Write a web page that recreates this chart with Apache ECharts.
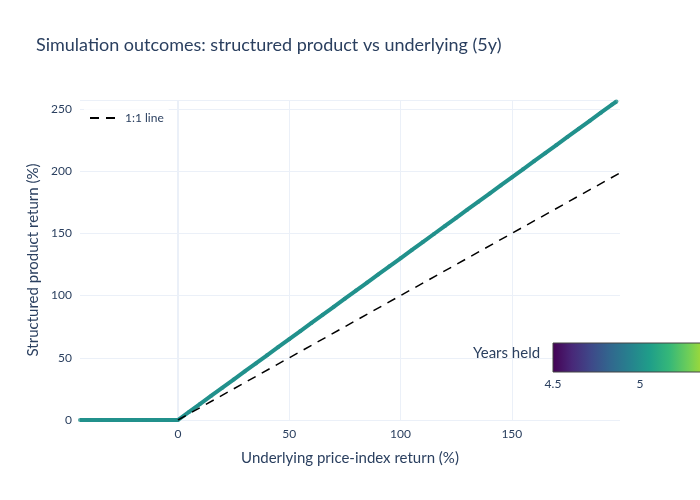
<!DOCTYPE html>
<html>
<head>
<meta charset="utf-8">
<script src="https://cdn.jsdelivr.net/npm/echarts@6/dist/echarts.min.js"></script>
<style>
  html, body { margin: 0; padding: 0; background: #fff; }
  #chart { width: 700px; height: 500px; }
</style>
</head>
<body>
<div id="chart"></div>
<script>
// 模拟结果：标的收益 vs 结构化产品收益（5年）
var underlyingReturn = [-44, -40, -35, -30, -25, -20, -15, -10, -5, 0,
    5, 10, 15, 20, 25, 30, 35, 40, 45, 50, 55, 60, 65, 70, 75, 80, 85, 90, 95, 100,
    105, 110, 115, 120, 125, 130, 135, 140, 145, 150, 155, 160, 165, 170, 175, 180, 185, 190, 195, 197];
var productReturn = [0, 0, 0, 0, 0, 0, 0, 0, 0, 0,
    6.5, 13, 19.5, 26, 32.5, 39, 45.5, 52, 58.5, 65, 71.5, 78, 84.5, 91, 97.5, 104, 110.5, 117, 123.5, 130,
    136.5, 143, 149.5, 156, 162.5, 169, 175.5, 182, 188.5, 195, 201.5, 208, 214.5, 221, 227.5, 234, 240.5, 247, 253.5, 256];
var yearsHeld = [5, 5, 5, 5, 5, 5, 5, 5, 5, 5,
    5, 5, 5, 5, 5, 5, 5, 5, 5, 5, 5, 5, 5, 5, 5, 5, 5, 5, 5, 5,
    5, 5, 5, 5, 5, 5, 5, 5, 5, 5, 5, 5, 5, 5, 5, 5, 5, 5, 5, 5];
var identityX = [0, 198.6];
var identityY = [0, 198.6];
var xTicks = [0, 50, 100, 150];
var colorbarTicks = [4.5, 5, 5.5];

var viridis = ['#440154', '#482878', '#3e4989', '#31688e', '#26828e',
    '#1f9e89', '#35b779', '#6ece58', '#b5de2b', '#fde725'];

var FONT = 'Lato';
var TXT = '#2a3f5f';
var GRID = '#ebf0f8';

var scatterData = [];
for (var i = 0; i < underlyingReturn.length; i++) {
    scatterData.push([underlyingReturn[i], productReturn[i], yearsHeld[i]]);
}
var lineData = [];
for (var j = 0; j < identityX.length; j++) {
    lineData.push([identityX[j], identityY[j]]);
}
// x方向网格线（刻度从0开始，不从min开始）
var xGridLines = xTicks.map(function (v) {
    return { xAxis: v, lineStyle: { width: v === 0 ? 2 : 1 } };
});

var myChart = echarts.init(document.getElementById('chart'));

var option = {
    backgroundColor: '#fff',
    textStyle: { fontFamily: FONT },
    animation: false,
    title: [
        {
            text: 'Simulation outcomes: structured product vs underlying (5y)',
            left: 31, top: 31,
            textStyle: { fontFamily: FONT, fontSize: 18, fontWeight: 'normal', color: TXT }
        },
        {
            text: 'Years held',
            left: 468, top: 341,
            textStyle: { fontFamily: FONT, fontSize: 15, fontWeight: 'normal', color: TXT }
        }
    ],
    legend: {
        data: ['1:1 line'],
        left: 84, top: 107,
        itemWidth: 30, itemHeight: 10,
        itemGap: 6,
        itemStyle: { opacity: 0 },
        backgroundColor: 'rgba(255,255,255,0.8)',
        textStyle: { fontFamily: FONT, fontSize: 12, color: TXT }
    },
    grid: [
        { left: 80, right: 80, top: 100, bottom: 80, outerBoundsMode: 'none' },
        {
            left: 553, width: 174, top: 343, height: 29,
            outerBoundsMode: 'none',
            z: 10,
            show: true, borderColor: '#444', borderWidth: 1,
            backgroundColor: {
                type: 'linear', x: 0, y: 0, x2: 1, y2: 0,
                colorStops: viridis.map(function (c, k) {
                    return { offset: k / (viridis.length - 1), color: c };
                })
            }
        }
    ],
    xAxis: [
        {
            type: 'value', gridIndex: 0,
            min: -44, max: 198.6, interval: 50,
            name: 'Underlying price-index return (%)',
            nameLocation: 'middle', nameGap: 31,
            nameTextStyle: { fontFamily: FONT, fontSize: 15, color: TXT },
            axisLine: { show: false },
            axisTick: { show: false },
            axisLabel: {
                color: TXT, fontSize: 12, fontFamily: FONT, margin: 8,
                customValues: xTicks
            },
            splitLine: { show: false }
        },
        {
            type: 'value', gridIndex: 1,
            min: colorbarTicks[0], max: colorbarTicks[colorbarTicks.length - 1], interval: 0.5,
            z: 10,
            axisLine: { show: false },
            axisTick: { show: false },
            splitLine: { show: false },
            axisLabel: { color: TXT, fontSize: 12, fontFamily: FONT, margin: 6 }
        }
    ],
    yAxis: [
        {
            type: 'value', gridIndex: 0,
            min: 0, max: 257.2, interval: 50,
            name: 'Structured product return (%)',
            nameLocation: 'middle', nameGap: 38,
            nameTextStyle: { fontFamily: FONT, fontSize: 15, color: TXT },
            axisLine: { show: false },
            axisTick: { show: false },
            axisLabel: { color: TXT, fontSize: 12, fontFamily: FONT, margin: 8,
                showMaxLabel: false },
            splitLine: { show: true, lineStyle: { color: GRID, width: 1 } }
        },
        { type: 'value', gridIndex: 1, show: false, min: 0, max: 1 }
    ],
    visualMap: {
        type: 'continuous',
        show: false,
        seriesIndex: 1,
        dimension: 2,
        min: 4.5, max: 5.5,
        inRange: { color: viridis }
    },
    series: [
        {
            name: 'grid',
            type: 'line',
            xAxisIndex: 0, yAxisIndex: 0,
            data: [],
            z: 0,
            markLine: {
                silent: true, symbol: 'none', label: { show: false },
                z: 0,
                lineStyle: { color: GRID, width: 1, type: 'solid' },
                data: xGridLines
            }
        },
        {
            name: 'Years held',
            type: 'scatter',
            xAxisIndex: 0, yAxisIndex: 0,
            data: scatterData,
            symbolSize: 4,
            z: 4
        },
        {
            // 把散点连成一条线，看起来和密集的模拟点一样
            name: 'outcomes',
            type: 'line',
            xAxisIndex: 0, yAxisIndex: 0,
            data: scatterData,
            symbol: 'none',
            lineStyle: { color: '#21918c', width: 4 },
            z: 3
        },
        {
            name: '1:1 line',
            type: 'line',
            xAxisIndex: 0, yAxisIndex: 0,
            data: lineData,
            symbol: 'none',
            lineStyle: { color: '#000', width: 1.5, type: [9, 7] },
            itemStyle: { color: '#000' },
            z: 5
        }
    ]
};

myChart.setOption(option);
</script>
</body>
</html>
